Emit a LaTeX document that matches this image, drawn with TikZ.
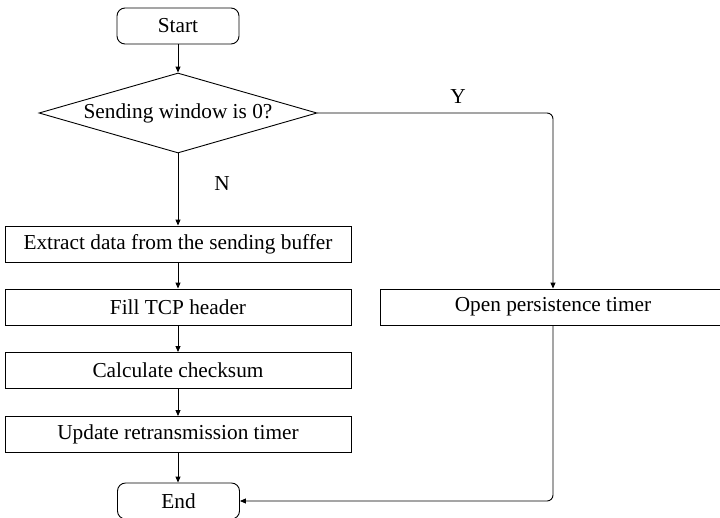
\documentclass[tikz,border=0pt]{standalone}
\usepackage{fontspec}
\setmainfont{Liberation Serif}
\usetikzlibrary{shapes.geometric,arrows.meta}

\tikzset{
  base/.style={draw=black, line width=0.9pt, inner sep=0pt, align=center,
    font=\fontsize{21.3}{25}\selectfont},
  terminal/.style={base, rounded corners=8pt, minimum width=122pt, minimum height=36pt},
  process/.style={base, minimum width=346pt, minimum height=36pt},
  decision/.style={base, diamond, shape aspect=3.475, minimum width=278pt, minimum height=80pt},
  flow/.style={draw=black, line width=0.9pt, -{Triangle[length=6pt,width=5pt]}},
  tag/.style={inner sep=0pt, font=\fontsize{21.3}{25}\selectfont}
}

\begin{document}
\begin{tikzpicture}[x=1pt, y=-1pt]
  \useasboundingbox (0,0) rectangle (720,517);
  \clip (0,0) rectangle (720,517);

  % main column
  \node[terminal] (start) at (178,26) {Start};
  \node[decision] (dec) at (178,113) {Sending window is 0?};
  \node[process] (extract) at (178,244) {Extract data from the sending buffer};
  \node[process] (fill) at (178,307) {Fill TCP header};
  \node[process] (calc) at (178,370.5) {Calculate checksum};
  \node[process] (update) at (178,434.5) {Update retransmission timer};
  \node[terminal] (end) at (178.5,501) {End};

  % side branch
  \node[process] (open) at (553,307) {Open persistence timer};

  % branch labels
  \node[tag] (ylab) at (458,97) {Y};
  \node[tag] (nlab) at (222,184) {N};

  % connectors
  \draw[flow] (start) -- (dec);
  \draw[flow] (dec.south) -- (extract.north);
  \draw[flow] (extract) -- (fill);
  \draw[flow] (fill) -- (calc);
  \draw[flow] (calc) -- (update);
  \draw[flow] (update.south) -- (update.south |- end.north);
  \draw[flow, rounded corners=6pt] (dec.east) -- (open.north |- dec.east) -- (open.north);
  \draw[flow, rounded corners=6pt] (open.south) |- (end.east);
\end{tikzpicture}
\end{document}
